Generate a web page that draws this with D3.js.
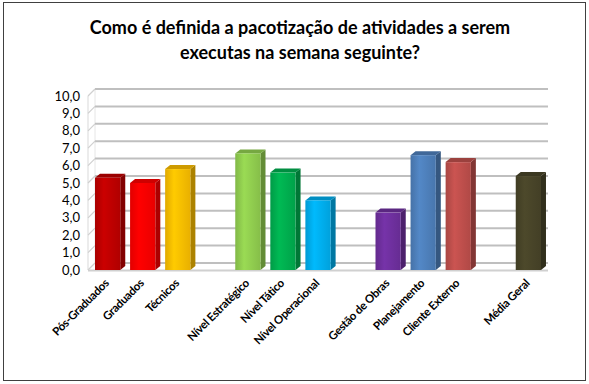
<!DOCTYPE html>
<html>
<head>
<meta charset="utf-8">
<script src="https://cdn.jsdelivr.net/npm/d3@7"></script>
<style>
  html, body { margin: 0; padding: 0; background: #fff; }
  svg text { font-family: Lato, "Liberation Sans", sans-serif; fill: #000; }
</style>
</head>
<body>
<svg id="chart" width="589" height="384"></svg>
<script>
// Survey answers: average score per respondent group
const categories = [
  "Pós-Graduados", "Graduados", "Técnicos",
  "Nível Estratégico", "Nível Tático", "Nível Operacional",
  "Gestão de Obras", "Planejamento", "Cliente Externo",
  "Média Geral"
];
const values = [5.3, 5.0, 5.8, 6.7, 5.6, 4.0, 3.3, 6.6, 6.2, 5.4];
const groupSizes = [3, 3, 3, 1];
const barColors = [
  "#c00000", "#ff0000", "#ffc000",
  "#92d050", "#00b050", "#00b0f0",
  "#7030a0", "#4f81bd", "#c0504d",
  "#494529"
];
const yTicks = [0, 1, 2, 3, 4, 5, 6, 7, 8, 9, 10];
const titleLines = [
  "Como é definida a pacotização de atividades a serem",
  "executas na semana seguinte?"
];

const svg = d3.select("#chart");
const W = 589, H = 384;

// outer frame
svg.append("rect")
  .attr("x", 3.5).attr("y", 2.5).attr("width", W - 7).attr("height", H - 6)
  .attr("fill", "#fff").attr("stroke", "#404040").attr("stroke-width", 1);

// title
svg.append("g").selectAll("text").data(titleLines).join("text")
  .attr("x", 300).attr("y", (d, i) => 34 + i * 25)
  .attr("text-anchor", "middle")
  .attr("font-weight", "bold").attr("font-size", 18)
  .text(d => d);

// category slots, with an empty slot between groups
const slots = [];
let k = 0;
groupSizes.forEach((n, g) => {
  for (let i = 0; i < n; i++) slots.push(categories[k++]);
  if (g < groupSizes.length - 1) slots.push("gap" + g);
});

const x = d3.scaleBand().domain(slots).range([88, 548])
  .paddingInner(0.28).paddingOuter(0.2);
const y = d3.scaleLinear().domain([0, 10]).range([270, 96]);

// depth offset of the 3D walls and bars
const wallDx = 7, wallDy = -7;
const barDx = 5, barDy = -4;
const xLeft = 88, xRight = 548;

const walls = svg.append("g");
// left wall edges
walls.append("line")
  .attr("x1", xLeft).attr("x2", xLeft).attr("y1", y(0)).attr("y2", y(10))
  .attr("stroke", "#d9d9d9").attr("stroke-width", 1);
walls.append("line")
  .attr("x1", xLeft + wallDx).attr("x2", xLeft + wallDx)
  .attr("y1", y(0) + wallDy).attr("y2", y(10) + wallDy)
  .attr("stroke", "#e6e6e6").attr("stroke-width", 1);
// floor front edge
walls.append("line")
  .attr("x1", xLeft).attr("x2", xRight).attr("y1", y(0) + 0.5).attr("y2", y(0) + 0.5)
  .attr("stroke", "#d0d0d0").attr("stroke-width", 2);

// gridlines on the back wall, joined to the left wall by short diagonals
const grid = walls.selectAll("g.grid").data(yTicks).join("g").attr("class", "grid");
grid.append("line")
  .attr("x1", xLeft + wallDx).attr("x2", xRight)
  .attr("y1", d => y(d) + wallDy).attr("y2", d => y(d) + wallDy)
  .attr("stroke", "#bfbfbf").attr("stroke-width", 2);
grid.append("line")
  .attr("x1", xLeft).attr("x2", xLeft + wallDx)
  .attr("y1", d => y(d)).attr("y2", d => y(d) + wallDy)
  .attr("stroke", "#d0d0d0").attr("stroke-width", 1.2);

// y-axis labels
svg.append("g").selectAll("text").data(yTicks).join("text")
  .attr("x", 80).attr("y", d => y(d))
  .attr("dy", "0.35em")
  .attr("text-anchor", "end")
  .attr("font-size", 13)
  .text(d => d.toFixed(1).replace(".", ","));

// bars: front face, side face and top face
const data = categories.map((c, i) => ({ c, v: values[i], col: barColors[i] }));
const defs = svg.append("defs");
data.forEach((d, i) => {
  const g = defs.append("linearGradient").attr("id", "grad" + i)
    .attr("x1", 0).attr("x2", 1).attr("y1", 0).attr("y2", 0);
  const base = d3.color(d.col);
  g.append("stop").attr("offset", 0).attr("stop-color", base.darker(0.35));
  g.append("stop").attr("offset", 0.35).attr("stop-color", base.brighter(0.15));
  g.append("stop").attr("offset", 1).attr("stop-color", base.darker(0.25));
});

const bars = svg.append("g").selectAll("g").data(data).join("g");
const bw = x.bandwidth();
bars.append("path")
  .attr("d", d => {
    const x0 = x(d.c) + bw, y0 = y(d.v), y1 = y(0);
    return `M${x0},${y0}L${x0 + barDx},${y0 + barDy}L${x0 + barDx},${y1 + barDy}L${x0},${y1}Z`;
  })
  .attr("fill", d => d3.color(d.col).darker(1.1));
bars.append("path")
  .attr("d", d => {
    const x0 = x(d.c), y0 = y(d.v);
    return `M${x0},${y0}L${x0 + barDx},${y0 + barDy}L${x0 + bw + barDx},${y0 + barDy}L${x0 + bw},${y0}Z`;
  })
  .attr("fill", d => d3.color(d.col).darker(0.6));
bars.append("rect")
  .attr("x", d => x(d.c)).attr("width", bw)
  .attr("y", d => y(d.v)).attr("height", d => y(0) - y(d.v))
  .attr("fill", (d, i) => `url(#grad${i})`);

// rotated category labels
svg.append("g").selectAll("text").data(categories).join("text")
  .attr("transform", d => `translate(${x(d) + bw / 2 + 2},${284}) rotate(-45)`)
  .attr("text-anchor", "end")
  .attr("font-weight", "bold").attr("font-size", 11.5)
  .attr("letter-spacing", -0.3)
  .text(d => d);
</script>
</body>
</html>
